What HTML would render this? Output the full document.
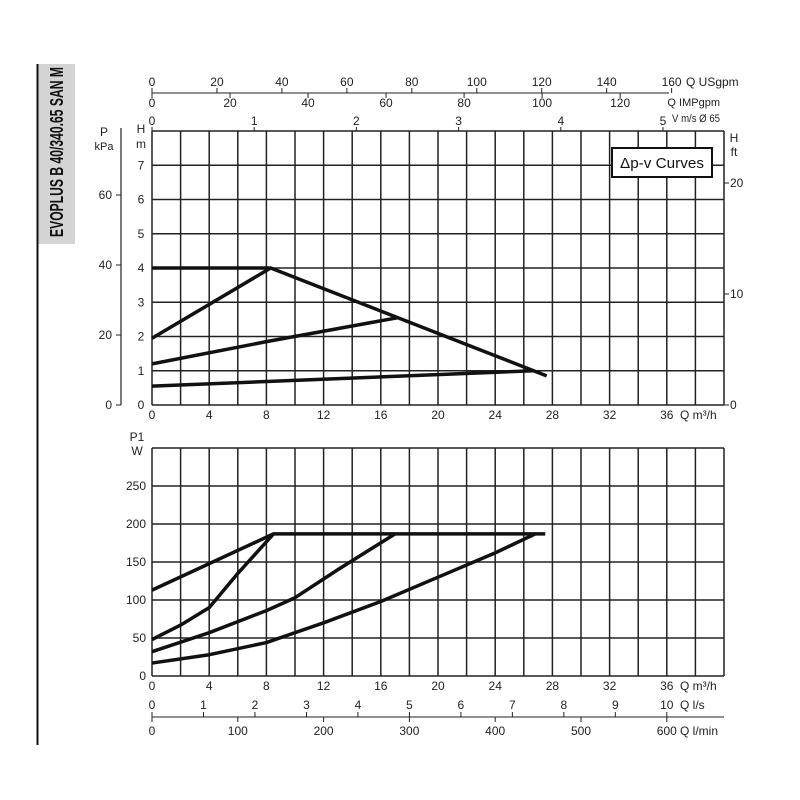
<!DOCTYPE html>
<html><head><meta charset="utf-8"><style>
body{margin:0;background:#fff;}
svg{display:block;font-family:"Liberation Sans",sans-serif;}
</style></head><body>
<svg id="c" width="800" height="800" viewBox="0 0 800 800">
<rect x="37" y="64" width="38" height="180" fill="#d4d4d4"/>
<line x1="37.5" y1="64" x2="37.5" y2="745" stroke="#111" stroke-width="2"/>
<text transform="translate(63,152) rotate(-90)" x="0" y="0" text-anchor="middle" font-size="18" font-weight="bold" fill="#111" textLength="170" lengthAdjust="spacingAndGlyphs">EVOPLUS B 40/340.65 SAN M</text>
<g id="g"></g>
</svg>
<script>
// data
const qTicks=[0,4,8,12,16,20,24,28,32,36];
const hTicks=[0,1,2,3,4,5,6,7];
const kpaTicks=[0,20,40,60];
const ftTicks=[0,10,20];
const wTicks=[0,50,100,150,200,250];
const usgpmTicks=[0,20,40,60,80,100,120,140,160];
const impTicks=[0,20,40,60,80,100,120];
const vTicks=[0,1,2,3,4,5];
const lsTicks=[0,1,2,3,4,5,6,7,8,9,10];
const lminTicks=[0,100,200,300,400,500,600];
const hMaxQ=[0,8.3,27.6]; const hMaxH=[4,4,0.85];
const h2Q=[0,8.3]; const h2H=[1.95,4];
const h3Q=[0,8,17.2]; const h3H=[1.2,1.85,2.55];
const h4Q=[0,26.7]; const h4H=[0.55,1.0];
const pMaxQ=[0,8.5,27.5]; const pMaxW=[113,187,187];
const p2Q=[0,2,4,6,8.5]; const p2W=[48,67,90,135,187];
const p3Q=[0,4,8,10,13,17]; const p3W=[32,57,86,103,140,187];
const p4Q=[0,4,8,12,16,20,24,26.8]; const p4W=[17,28,44,70,98,130,162,187];

const NS="http://www.w3.org/2000/svg",G=document.getElementById('g');
function el(t,a,name,txt){const e=document.createElementNS(NS,t);for(const k in a)e.setAttribute(k,a[k]);


if(txt!==undefined)e.textContent=txt;G.appendChild(e);return e;}
const X0=152,XS=14.3;
const xq=q=>X0+q*XS;
const yH=h=>405-h*34.25;
const yW=w=>676-w*0.76;
const R=xq(40);
for(let q=0;q<=40;q+=2){
 el('line',{x1:xq(q),y1:yH(8),x2:xq(q),y2:yH(0),stroke:'#222','stroke-width':1.5},'upper-grid-v');
 el('line',{x1:xq(q),y1:yW(300),x2:xq(q),y2:yW(0),stroke:'#222','stroke-width':1.5},'lower-grid-v');
}
for(let h=0;h<=8;h++)el('line',{x1:X0,y1:yH(h),x2:R,y2:yH(h),stroke:'#222','stroke-width':1.5},'upper-grid-h');
for(let w=0;w<=300;w+=50)el('line',{x1:X0,y1:yW(w),x2:R,y2:yW(w),stroke:'#222','stroke-width':1.5},'lower-grid-h');
const T=(x,y,s,name,anchor,size)=>el('text',{x:x,y:y,'text-anchor':anchor||'middle','font-size':size||12,fill:'#222'},name,s);
qTicks.forEach(q=>{T(xq(q),419,q,'upper-x-tick');T(xq(q),690,q,'lower-x-tick');});
T(680,419,'Q m³/h','upper-x-title','start');T(680,690,'Q m³/h','lower-x-title','start');
hTicks.forEach(h=>T(141,yH(h)+4,h,'h-tick'));
T(141,133,'H','h-title');T(141,148,'m','h-unit');
el('line',{x1:121,y1:128,x2:121,y2:405,stroke:'#222','stroke-width':1.2},'kpa-axis');
kpaTicks.forEach(k=>{const y=405-k*3.5;el('line',{x1:116,y1:y,x2:121,y2:y,stroke:'#222'},'kpa-tick-mark');T(112,y+4,k,'kpa-tick','end');});
T(104,136,'P','kpa-title');T(104,150,'kPa','kpa-unit',undefined,11);
ftTicks.forEach(f=>{const y=405-f*11.1;el('line',{x1:R,y1:y,x2:R+5,y2:y,stroke:'#222'},'ft-tick-mark');T(730,y+4,f,'ft-tick','start');});
T(734,142,'H','ft-title');T(734,156,'ft','ft-unit');
el('rect',{x:612,y:148,width:100,height:29,fill:'#fff',stroke:'#111','stroke-width':2},'legend-box');
el('text',{x:662,y:168,'text-anchor':'middle','font-size':15,fill:'#111',textLength:84,lengthAdjust:'spacingAndGlyphs'},'legend-label','Δp-v Curves');
el('line',{x1:X0,y1:93,x2:R-55,y2:93,stroke:'#222'},'usgpm-axis');
usgpmTicks.forEach(v=>{const x=xq(v*0.2271);el('line',{x1:x,y1:88,x2:x,y2:93,stroke:'#222'},'usgpm-tick-mark');T(x,86,v,'usgpm-tick');});
T(686,86,'Q USgpm','usgpm-title','start');
impTicks.forEach(v=>{const x=xq(v*0.2728);el('line',{x1:x,y1:93,x2:x,y2:98,stroke:'#222'},'imp-tick-mark');T(x,107,v,'imp-tick');});
T(720,106,'Q IMPgpm','imp-title','end',11);
vTicks.forEach(v=>{const x=X0+v*102.2;el('line',{x1:x,y1:127,x2:x,y2:131,stroke:'#222'},'v-tick-mark');T(x,125,v,'v-tick');});
el('text',{x:672,y:122,'font-size':11,fill:'#222',textLength:48,lengthAdjust:'spacingAndGlyphs'},'v-title','V m/s Ø 65');
wTicks.forEach(w=>T(146,yW(w)+4,w,'w-tick','end'));
T(137,441,'P1','w-title');T(137,455,'W','w-unit');
el('line',{x1:X0,y1:717,x2:R,y2:717,stroke:'#222'},'ls-axis');
lsTicks.forEach(v=>{const x=xq(v*3.6);el('line',{x1:x,y1:712,x2:x,y2:717,stroke:'#222'},'ls-tick-mark');T(x,709,v,'ls-tick');});
T(680,709,'Q l/s','ls-title','start');
lminTicks.forEach(v=>{const x=xq(v*0.06);el('line',{x1:x,y1:717,x2:x,y2:722,stroke:'#222'},'lmin-tick-mark');T(x,735,v,'lmin-tick');});
T(680,735,'Q l/min','lmin-title','start');
function curve(qs,vs,yf,name){el('polyline',{points:qs.map((q,i)=>xq(q)+','+yf(vs[i])).join(' '),fill:'none',stroke:'#111','stroke-width':3.5,'stroke-linejoin':'round'},name);}
curve(hMaxQ,hMaxH,yH,'head-curve-max');curve(h2Q,h2H,yH,'head-curve-2');curve(h3Q,h3H,yH,'head-curve-3');curve(h4Q,h4H,yH,'head-curve-4');
curve(pMaxQ,pMaxW,yW,'power-curve-max');curve(p2Q,p2W,yW,'power-curve-2');curve(p3Q,p3W,yW,'power-curve-3');curve(p4Q,p4W,yW,'power-curve-4');
</script>
</body></html>
